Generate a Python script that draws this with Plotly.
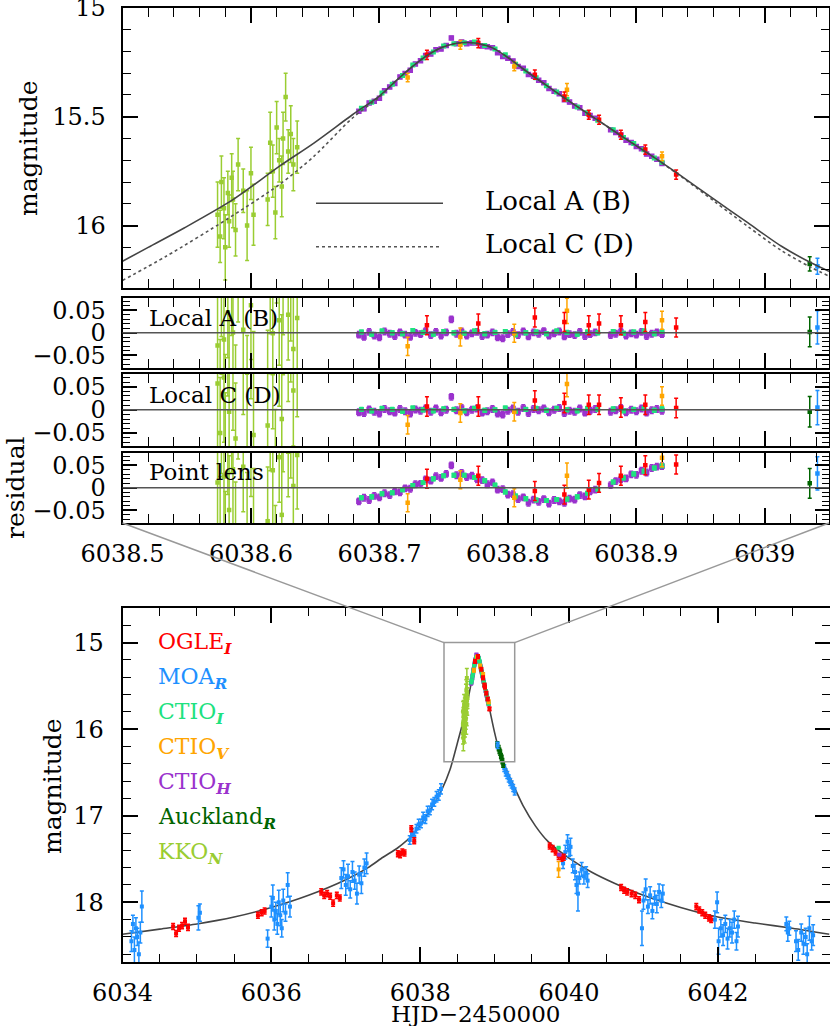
import plotly.graph_objects as go

W, H = 830, 1026
FONT = "DejaVu Serif"

# ---------------- model curves ----------------
model_A_t = [6038.500, 6038.520, 6038.548, 6038.586, 6038.622, 6038.649, 6038.679, 6038.700,
             6038.712, 6038.724, 6038.736, 6038.748, 6038.760, 6038.768, 6038.776, 6038.788,
             6038.800, 6038.812, 6038.830, 6038.850, 6038.870, 6038.890, 6038.910, 6038.931,
             6038.961, 6038.987, 6039.013, 6039.036, 6039.050]
model_A_mag = [16.164, 16.100, 16.011, 15.881, 15.728, 15.621, 15.491, 15.405,
               15.340, 15.278, 15.223, 15.183, 15.163, 15.159, 15.163, 15.184,
               15.228, 15.281, 15.356, 15.438, 15.516, 15.595, 15.672, 15.756,
               15.881, 15.988, 16.095, 16.171, 16.210]
model_C_t = [6038.500, 6038.534, 6038.581, 6038.622, 6038.649, 6038.679, 6038.700, 6038.712,
             6038.724, 6038.736, 6038.748, 6038.760, 6038.768, 6038.776, 6038.788, 6038.800,
             6038.812, 6038.830, 6038.850, 6038.870, 6038.890, 6038.910, 6038.935, 6038.961,
             6038.987, 6039.013, 6039.036, 6039.050]
model_C_mag = [16.252, 16.141, 15.972, 15.812, 15.682, 15.506, 15.410, 15.341,
               15.278, 15.223, 15.183, 15.163, 15.159, 15.163, 15.184, 15.228,
               15.281, 15.356, 15.438, 15.516, 15.595, 15.672, 15.775, 15.890,
               16.005, 16.115, 16.192, 16.232]
model_wide_t = [6034.0, 6034.5, 6035.0, 6035.5, 6036.0, 6036.5, 6037.0, 6037.3, 6037.5, 6037.7,
                6037.9, 6038.1, 6038.3, 6038.4, 6038.5, 6038.6, 6038.7, 6038.77, 6038.85, 6038.93,
                6039.0, 6039.05, 6039.16, 6039.27, 6039.38, 6039.55, 6039.72, 6040.0, 6040.3,
                6040.61, 6041.0, 6041.5, 6042.0, 6042.5, 6043.0, 6043.5]
model_wide_mag = [18.37, 18.31, 18.25, 18.17, 18.06, 17.92, 17.74, 17.60, 17.48, 17.37,
                  17.22, 16.98, 16.68, 16.47, 16.16, 15.83, 15.41, 15.16, 15.44, 15.76,
                  16.04, 16.21, 16.47, 16.68, 16.88, 17.12, 17.30, 17.49, 17.65,
                  17.78, 17.92, 18.06, 18.17, 18.24, 18.30, 18.37]

# tick labels
top_x_ticks = [6038.5, 6038.6, 6038.7, 6038.8, 6038.9, 6039.0]
top_x_labels = ["6038.5", "6038.6", "6038.7", "6038.8", "6038.9", "6039"]
bot_x_ticks = [6034, 6036, 6038, 6040, 6042]
bot_x_labels = ["6034", "6036", "6038", "6040", "6042"]

# ---------------- CTIO H (peak) ----------------
ctioH_t = [6038.684, 6038.688, 6038.692, 6038.696, 6038.700, 6038.704, 6038.708, 6038.712, 6038.716, 6038.720,
           6038.724, 6038.728, 6038.732, 6038.736, 6038.740, 6038.744, 6038.748, 6038.752, 6038.756, 6038.760,
           6038.764, 6038.768, 6038.772, 6038.776, 6038.780, 6038.784, 6038.788, 6038.792, 6038.796, 6038.800,
           6038.804, 6038.808, 6038.812, 6038.816, 6038.820, 6038.824, 6038.828, 6038.832, 6038.836, 6038.840,
           6038.844, 6038.848, 6038.852, 6038.856, 6038.860, 6038.864, 6038.868,
           6038.880, 6038.884, 6038.888, 6038.892, 6038.896, 6038.900, 6038.904, 6038.908, 6038.912, 6038.916, 6038.920]
ctioH_mag = [15.475, 15.464, 15.437, 15.429, 15.415, 15.381, 15.364, 15.347, 15.318, 15.302,
             15.287, 15.258, 15.243, 15.219, 15.212, 15.192, 15.189, 15.173, 15.138, 15.165,
             15.157, 15.165, 15.161, 15.161, 15.175, 15.179, 15.183, 15.206, 15.223, 15.231,
             15.244, 15.269, 15.278, 15.306, 15.314, 15.333, 15.344, 15.371, 15.383, 15.395,
             15.422, 15.433, 15.451, 15.459, 15.484, 15.495, 15.507,
             15.560, 15.573, 15.584, 15.608, 15.619, 15.637, 15.647, 15.671, 15.682, 15.695, 15.715]
ctioH_resA = [-0.004, -0.009, 0.002, -0.006, -0.010, 0.003, -0.002, -0.007, 0.001, -0.004,
              -0.009, 0.000, -0.003, 0.004, -0.005, 0.002, -0.006, 0.001, 0.030, -0.002,
              0.003, -0.006, -0.001, 0.002, -0.007, -0.004, 0.001, -0.010, -0.012, -0.003,
              0.002, -0.005, 0.003, -0.008, 0.001, -0.002, 0.004, -0.006, -0.001, 0.003,
              -0.008, -0.003, -0.005, 0.002, -0.007, -0.003, 0.001,
              -0.005, -0.002, 0.003, -0.006, -0.001, -0.004, 0.002, -0.007, -0.002, 0.001, -0.003]
ctioH_resC = [-0.005, -0.007, 0.001, -0.004, -0.008, 0.002, -0.003, -0.006, 0.002, -0.003,
              -0.008, 0.001, -0.002, 0.003, -0.004, 0.003, -0.005, 0.000, 0.028, -0.001,
              0.004, -0.005, 0.000, 0.003, -0.006, -0.003, 0.002, -0.008, -0.010, -0.002,
              0.003, -0.004, 0.004, -0.007, 0.002, -0.001, 0.003, -0.005, 0.000, 0.004,
              -0.007, -0.002, -0.004, 0.003, -0.006, -0.002, 0.002,
              -0.004, -0.001, 0.004, -0.005, 0.000, -0.003, 0.003, -0.006, -0.001, 0.002, -0.002]
ctioH_resP = [-0.030, -0.022, -0.027, -0.018, -0.021, -0.012, -0.016, -0.008, -0.010, -0.001,
              -0.002, 0.008, 0.009, 0.019, 0.016, 0.026, 0.022, 0.031, 0.050, 0.028,
              0.033, 0.024, 0.027, 0.019, 0.017, 0.008, 0.012, -0.004, -0.003, -0.015,
              -0.014, -0.025, -0.021, -0.033, -0.026, -0.031, -0.025, -0.035, -0.027, -0.030,
              -0.033, -0.024, -0.026, -0.016, -0.019, -0.008, -0.004,
              0.006, 0.015, 0.019, 0.021, 0.030, 0.029, 0.038, 0.034, 0.044, 0.047, 0.048]
ctioH_err = 0.007
ctioH_wide_t = [6039.87]
ctioH_wide_mag = [17.45]

# ---------------- CTIO I (peak) ----------------
ctioI_t = [6038.686, 6038.694, 6038.702, 6038.710, 6038.718, 6038.726, 6038.734, 6038.742, 6038.750, 6038.758,
           6038.766, 6038.774, 6038.782, 6038.790, 6038.798, 6038.806, 6038.814, 6038.822, 6038.830, 6038.838,
           6038.846, 6038.854, 6038.862, 6038.870, 6038.882, 6038.890, 6038.898, 6038.906, 6038.914, 6038.920]
ctioI_mag = [15.461, 15.434, 15.391, 15.351, 15.311, 15.263, 15.230, 15.203, 15.175, 15.165,
             15.160, 15.157, 15.173, 15.189, 15.216, 15.259, 15.290, 15.321, 15.358, 15.386,
             15.421, 15.456, 15.482, 15.516, 15.560, 15.595, 15.623, 15.652, 15.690, 15.709]
ctioI_resA = [0.002, -0.003, 0.004, 0.000, -0.002, 0.005, 0.001, -0.003, 0.003, 0.000,
              -0.001, 0.004, -0.002, 0.001, 0.003, -0.004, 0.000, 0.002, -0.002, 0.004,
              0.001, -0.003, 0.002, 0.000, 0.003, -0.001, 0.002, 0.004, -0.002, 0.003]
ctioI_resC = [0.001, -0.002, 0.003, 0.001, -0.003, 0.004, 0.000, -0.002, 0.002, 0.001,
              -0.002, 0.003, -0.001, 0.000, 0.004, -0.003, 0.001, 0.003, -0.001, 0.003,
              0.000, -0.002, 0.003, 0.001, 0.002, -0.002, 0.001, 0.003, -0.001, 0.002]
ctioI_resP = [-0.022, -0.020, -0.013, -0.011, -0.004, 0.005, 0.012, 0.020, 0.027, 0.028,
              0.028, 0.023, 0.016, 0.006, -0.009, -0.018, -0.024, -0.027, -0.028, -0.026,
              -0.025, -0.020, -0.012, -0.003, 0.013, 0.022, 0.031, 0.037, 0.044, 0.049]
ctioI_err = 0.004
ctioI_wide_t = [6039.86]
ctioI_wide_mag = [17.37]

# ---------------- CTIO V (peak) ----------------
ctioV_t = [6038.722, 6038.763, 6038.805, 6038.846, 6038.920]
ctioV_mag = [15.320, 15.170, 15.269, 15.376, 15.682]
ctioV_err = [0.020, 0.020, 0.020, 0.028, 0.020]
ctioV_resA = [-0.030, -0.009, -0.001, 0.049, 0.028]
ctioV_resC = [-0.032, -0.007, -0.004, 0.056, 0.030]
ctioV_resP = [-0.033, 0.018, -0.022, 0.027, 0.067]
ctioV_wide_t = [6039.86]
ctioV_wide_mag = [17.62]
ctioV_wide_err = [0.09]

# ---------------- OGLE I ----------------
ogle_t = [6038.737, 6038.777, 6038.821, 6038.844, 6038.863, 6038.871, 6038.888, 6038.907, 6038.931]
ogle_mag = [15.216, 15.162, 15.307, 15.407, 15.491, 15.514, 15.583, 15.651, 15.766]
ogle_err = 0.021
ogle_resA = [0.017, 0.021, 0.034, 0.024, 0.017, 0.021, 0.017, 0.024, 0.012]
ogle_resC = [0.007, 0.007, 0.020, 0.015, 0.011, 0.011, 0.005, 0.011, 0.004]
ogle_resP = [0.020, 0.027, -0.007, -0.015, -0.004, 0.011, 0.027, 0.050, 0.052]
ogle_wide_t = [6034.68, 6034.72, 6034.76, 6034.80, 6034.84, 6034.88,
               6035.82, 6035.87, 6035.91,
               6036.67, 6036.71, 6036.75, 6036.79, 6036.83, 6036.88, 6036.92,
               6037.70, 6037.73, 6037.76, 6037.79, 6037.88, 6037.92,
               6039.74, 6039.78, 6039.82, 6039.86, 6039.90, 6039.93,
               6040.70, 6040.74, 6040.78, 6040.84, 6040.89, 6040.94,
               6041.71, 6041.75, 6041.79, 6041.83, 6041.88, 6041.91]
ogle_wide_mag = [18.28, 18.36, 18.30, 18.27, 18.22, 18.29,
                 18.15, 18.12, 18.10,
                 17.88, 17.92, 17.90, 17.93, 18.01, 17.92, 17.95,
                 17.44, 17.45, 17.42, 17.43, 17.15, 17.29,
                 17.35, 17.38, 17.42, 17.47, 17.49, 17.48,
                 17.83, 17.86, 17.88, 17.90, 17.92, 17.97,
                 18.05, 18.09, 18.12, 18.15, 18.18, 18.20]
ogle_wide_err = 0.035

# ---------------- Auckland R ----------------
auck_t = [6039.035]
auck_mag = [16.176]
auck_err = [0.033]
auck_resA = [0.002]
auck_resC = [-0.004]
auck_resP = [0.010]
auck_wide_t = [6039.055, 6039.065, 6039.075, 6039.085, 6039.095, 6039.105, 6039.115]
auck_wide_mag = [16.22, 16.25, 16.27, 16.31, 16.33, 16.37, 16.41]
auck_wide_err = 0.03

# ---------------- MOA R ----------------
moa_t = [6039.041]
moa_mag = [16.187]
moa_err = [0.037]
moa_resA = [0.012]
moa_resC = [0.005]
moa_resP = [0.032]
moa_wide_t = [6034.12, 6034.14, 6034.16, 6034.18, 6034.20, 6034.22, 6034.24, 6034.26,
              6035.02, 6035.04,
              6035.95, 6036.00, 6036.02, 6036.04, 6036.06, 6036.08, 6036.10, 6036.12, 6036.14, 6036.16,
              6036.19, 6036.22, 6036.25,
              6036.94, 6036.97, 6037.00, 6037.03, 6037.06, 6037.09, 6037.12, 6037.15, 6037.18, 6037.21,
              6037.25, 6037.28,
              6037.86, 6037.89, 6037.92, 6037.95, 6037.98, 6038.01, 6038.04, 6038.07, 6038.10, 6038.13,
              6038.16, 6038.19, 6038.22, 6038.25, 6038.28,
              6039.13, 6039.15, 6039.17, 6039.19, 6039.21, 6039.23, 6039.25, 6039.27,
              6039.92, 6039.95, 6039.98, 6040.00, 6040.02, 6040.05, 6040.08, 6040.10, 6040.12, 6040.14,
              6040.17, 6040.20, 6040.23, 6040.25,
              6040.98, 6041.00, 6041.03, 6041.06, 6041.09, 6041.12, 6041.15, 6041.18, 6041.21, 6041.24, 6041.26,
              6041.96, 6041.99, 6042.01, 6042.04, 6042.07, 6042.10, 6042.13, 6042.16, 6042.19, 6042.22,
              6042.25, 6042.27,
              6042.92, 6042.94, 6042.96, 6043.05, 6043.08, 6043.12, 6043.15, 6043.18, 6043.20, 6043.23,
              6043.26, 6043.28]
moa_wide_mag = [18.45, 18.25, 18.55, 18.30, 18.40, 18.60, 18.35, 18.05,
                18.18, 18.12,
                18.42, 18.05, 17.95, 18.20, 18.10, 18.25, 18.00, 18.15, 18.30, 17.98,
                18.12, 17.80, 18.05,
                17.72, 17.62, 17.80, 17.70, 17.85, 17.65, 17.75, 17.90, 17.68, 17.78,
                17.60, 17.55,
                17.28, 17.20, 17.24, 17.15, 17.10, 17.09, 17.02, 17.04, 16.95, 16.94,
                16.87, 16.84, 16.78, 16.76, 16.69,
                16.45, 16.50, 16.53, 16.57, 16.61, 16.64, 16.68, 16.72,
                17.55, 17.42, 17.30, 17.40, 17.36, 17.58, 17.65, 17.80, 17.90, 17.72,
                17.62, 17.70, 17.66, 17.75,
                18.30, 17.98, 17.85, 18.05, 17.92, 18.10, 17.95, 18.02, 17.88, 17.98, 17.90,
                18.20, 18.00, 18.45, 18.30, 18.38, 18.25, 18.42, 18.30, 18.35, 18.20,
                18.45, 18.28,
                18.25, 18.35, 18.30, 18.45, 18.55, 18.35, 18.48, 18.40, 18.60, 18.30,
                18.45, 18.38]
moa_wide_err = [0.12, 0.10, 0.15, 0.12, 0.10, 0.14, 0.12, 0.18,
                0.14, 0.10,
                0.10, 0.12, 0.15, 0.12, 0.10, 0.12, 0.14, 0.12, 0.10, 0.13,
                0.10, 0.14, 0.12,
                0.12, 0.10, 0.12, 0.14, 0.10, 0.12, 0.10, 0.12, 0.10, 0.12,
                0.10, 0.12,
                0.05, 0.05, 0.06, 0.05, 0.06, 0.05, 0.06, 0.05, 0.06, 0.05,
                0.06, 0.05, 0.06, 0.06, 0.06,
                0.04, 0.04, 0.04, 0.04, 0.04, 0.04, 0.04, 0.04,
                0.06, 0.08, 0.08, 0.07, 0.10, 0.08, 0.09, 0.10, 0.20, 0.07,
                0.08, 0.09, 0.07, 0.08,
                0.20, 0.10, 0.12, 0.08, 0.10, 0.09, 0.08, 0.10, 0.09, 0.08, 0.10,
                0.10, 0.12, 0.15, 0.10, 0.12, 0.10, 0.12, 0.10, 0.12, 0.10,
                0.10, 0.12,
                0.08, 0.10, 0.08, 0.12, 0.12, 0.10, 0.12, 0.10, 0.12, 0.14,
                0.10, 0.12]

# ---------------- KKO N ----------------
kko_t = [6038.574, 6038.576, 6038.577, 6038.579, 6038.580, 6038.582, 6038.583, 6038.585, 6038.586, 6038.588,
         6038.590, 6038.594, 6038.597, 6038.600, 6038.602, 6038.613, 6038.615, 6038.617, 6038.619, 6038.620,
         6038.622, 6038.624, 6038.625, 6038.627, 6038.629, 6038.631, 6038.633, 6038.636]
kko_mag = [15.95, 16.05, 15.80, 15.92, 16.10, 15.85, 15.98, 15.78, 15.88, 16.02,
           15.72, 15.84, 16.00, 15.76, 15.95, 15.88, 15.62, 15.75, 15.94, 15.55,
           15.70, 15.82, 15.60, 15.41, 15.66, 15.58, 15.72, 15.64]
kko_err = [0.15, 0.12, 0.12, 0.14, 0.15, 0.10, 0.12, 0.11, 0.13, 0.12,
           0.12, 0.10, 0.16, 0.12, 0.14, 0.12, 0.14, 0.12, 0.12, 0.12,
           0.10, 0.14, 0.12, 0.11, 0.10, 0.13, 0.12, 0.12]
kko_resA = [-0.028, -0.135, 0.112, -0.015, -0.198, 0.045, -0.089, 0.104, 0.001, -0.147,
            0.144, 0.007, -0.166, 0.061, -0.137, -0.114, 0.138, -0.001, -0.199, 0.186,
            0.028, -0.100, 0.116, 0.298, 0.040, 0.112, -0.036, 0.033]
kko_resC = [0.057, -0.050, 0.197, 0.070, -0.113, 0.130, -0.004, 0.189, 0.086, -0.062,
            0.229, 0.090, -0.083, 0.144, -0.054, -0.034, 0.218, 0.079, -0.119, 0.266,
            0.108, -0.020, 0.196, 0.378, 0.118, 0.190, 0.042, 0.105]
kko_resP = [0.012, -0.095, 0.152, 0.025, -0.158, 0.085, -0.049, 0.144, 0.041, -0.107,
            0.184, 0.047, -0.126, 0.101, -0.097, -0.074, 0.178, 0.039, -0.159, 0.226,
            0.068, -0.060, 0.156, 0.338, 0.080, 0.152, 0.004, 0.073]

# ---------------- styling ----------------
C_OGLE = "#ff0000"
C_MOA = "#1e90ff"
C_CTIOI = "#1ee27f"
C_CTIOV = "#ffa500"
C_CTIOH = "#9a32cd"
C_AUCK = "#006400"
C_KKO = "#9acd32"

fig = go.Figure()


def pts(t, m, err, color, ax, size=4.5):
    if isinstance(err, (int, float)):
        ey = dict(type="constant", value=err, color=color, thickness=1.5, width=2)
    else:
        ey = dict(type="data", array=err, color=color, thickness=1.5, width=2)
    fig.add_trace(go.Scatter(
        x=t, y=m, mode="markers", error_y=ey, xaxis="x" + ax, yaxis="y" + ax,
        marker=dict(symbol="square", size=size, color=color, line=dict(width=0)),
        showlegend=False, hoverinfo="skip"))


# top panel (axis "")
pts(kko_t, kko_mag, kko_err, C_KKO, "")
pts(ctioH_t, ctioH_mag, ctioH_err, C_CTIOH, "", size=5.5)
pts(ctioI_t, ctioI_mag, ctioI_err, C_CTIOI, "", size=5)
pts(ctioV_t, ctioV_mag, ctioV_err, C_CTIOV, "")
pts(ogle_t, ogle_mag, ogle_err, C_OGLE, "")
pts(auck_t, auck_mag, auck_err, C_AUCK, "")
pts(moa_t, moa_mag, moa_err, C_MOA, "")
fig.add_trace(go.Scatter(x=model_C_t, y=model_C_mag, mode="lines", xaxis="x", yaxis="y",
                         line=dict(color="#555555", width=1.6, dash="dot", shape="spline", smoothing=0.8),
                         showlegend=False, hoverinfo="skip"))
fig.add_trace(go.Scatter(x=model_A_t, y=model_A_mag, mode="lines", xaxis="x", yaxis="y",
                         line=dict(color="#444444", width=1.6, shape="spline", smoothing=0.8),
                         showlegend=False, hoverinfo="skip"))

# residual panels
for ax, key in (("2", "A"), ("3", "C"), ("4", "P")):
    pts(kko_t, {"A": kko_resA, "C": kko_resC, "P": kko_resP}[key], kko_err, C_KKO, ax)
    pts(ctioH_t, {"A": ctioH_resA, "C": ctioH_resC, "P": ctioH_resP}[key], ctioH_err, C_CTIOH, ax, size=5.5)
    pts(ctioI_t, {"A": ctioI_resA, "C": ctioI_resC, "P": ctioI_resP}[key], ctioI_err, C_CTIOI, ax, size=5)
    pts(ctioV_t, {"A": ctioV_resA, "C": ctioV_resC, "P": ctioV_resP}[key], ctioV_err, C_CTIOV, ax)
    pts(ogle_t, {"A": ogle_resA, "C": ogle_resC, "P": ogle_resP}[key], ogle_err, C_OGLE, ax)
    pts(auck_t, {"A": auck_resA, "C": auck_resC, "P": auck_resP}[key], auck_err, C_AUCK, ax)
    pts(moa_t, {"A": moa_resA, "C": moa_resC, "P": moa_resP}[key], moa_err, C_MOA, ax)

# bottom panel
fig.add_trace(go.Scatter(x=model_wide_t, y=model_wide_mag, mode="lines", xaxis="x5", yaxis="y5",
                         line=dict(color="#444444", width=1.6, shape="spline", smoothing=0.7),
                         showlegend=False, hoverinfo="skip"))
pts(moa_wide_t, moa_wide_mag, moa_wide_err, C_MOA, "5", size=4)
pts(ogle_wide_t, ogle_wide_mag, ogle_wide_err, C_OGLE, "5", size=4)
pts(kko_t, kko_mag, kko_err, C_KKO, "5", size=4)
pts(ctioH_t + ctioH_wide_t, ctioH_mag + ctioH_wide_mag, ctioH_err, C_CTIOH, "5", size=4)
pts(ctioI_t + ctioI_wide_t, ctioI_mag + ctioI_wide_mag, ctioI_err, C_CTIOI, "5", size=4)
pts(ctioV_t + ctioV_wide_t, ctioV_mag + ctioV_wide_mag, ctioV_err + ctioV_wide_err, C_CTIOV, "5", size=4)
pts(ogle_t, ogle_mag, ogle_err, C_OGLE, "5", size=4)
pts(auck_t + auck_wide_t, auck_mag + auck_wide_mag, auck_wide_err, C_AUCK, "5", size=4)
pts(moa_t, moa_mag, moa_err, C_MOA, "5", size=4)


# ---------------- layout ----------------
def dom(top_px, bot_px):
    return [1 - bot_px / H, 1 - top_px / H]


XDOM = [122.5 / W, 829.0 / W]
XDOM_B = [122.5 / W, 829.5 / W]
D_TOP = dom(7.5, 288)
D_R1 = dom(297.7, 368)
D_R2 = dom(373.7, 446)
D_R3 = dom(452.7, 523)
D_BOT = dom(608, 962)

tickfont = dict(family=FONT, size=24, color="black")


def axis(**kw):
    base = dict(showline=True, linecolor="black", linewidth=2, mirror="allticks",
                ticks="inside", tickcolor="black", tickwidth=1.5, ticklen=15,
                showgrid=False, zeroline=False, tickfont=tickfont, fixedrange=True,
                automargin=False, ticklabeloverflow="allow")
    base.update(kw)
    return base


def minor(d, ln=8):
    return dict(ticks="inside", ticklen=ln, tickwidth=1.2, tickcolor="black", dtick=d, showgrid=False)


TOP_XR = [6038.5, 6039.05]
TOP_YR = [16.2867, 14.9985]
RES_YR = [-0.078, 0.078]
BOT_XR = [6034.0, 6043.5]
BOT_YR = [18.69, 14.6]

xtop = dict(range=TOP_XR, tickmode="array", tickvals=top_x_ticks, ticktext=top_x_labels,
            minor=dict(ticks="inside", ticklen=9, tickwidth=1.2, tickcolor="black",
                       tick0=6038.5, dtick=0.02, showgrid=False))

layout = dict(
    template="none",
    width=W, height=H, autosize=False, margin=dict(l=0, r=0, t=0, b=0, pad=0),
    paper_bgcolor="white", plot_bgcolor="white", showlegend=False,
    font=dict(family=FONT, color="black"),
    xaxis=axis(domain=XDOM, anchor="y", showticklabels=False, **xtop),
    yaxis=axis(domain=D_TOP, range=TOP_YR, anchor="x", dtick=0.5, tick0=15,
               minor=minor(0.1), ticklabelstandoff=10),
    xaxis2=axis(domain=XDOM, anchor="y2", showticklabels=False, **xtop),
    yaxis2=axis(domain=D_R1, range=RES_YR, anchor="x2", dtick=0.05, tick0=0,
                minor=minor(0.01, 7), ticklen=14, ticklabelstandoff=10),
    xaxis3=axis(domain=XDOM, anchor="y3", showticklabels=False, **xtop),
    yaxis3=axis(domain=D_R2, range=RES_YR, anchor="x3", dtick=0.05, tick0=0,
                minor=minor(0.01, 7), ticklen=14, ticklabelstandoff=10),
    xaxis4=axis(domain=XDOM, anchor="y4", ticklabelstandoff=8, **xtop),
    yaxis4=axis(domain=D_R3, range=RES_YR, anchor="x4", dtick=0.05, tick0=0,
                minor=minor(0.01, 7), ticklen=14, ticklabelstandoff=10),
    xaxis5=axis(domain=XDOM_B, range=BOT_XR, anchor="y5", tickmode="array",
                tickvals=bot_x_ticks, ticktext=bot_x_labels,
                minor=dict(ticks="inside", ticklen=8, tickwidth=1.2, tickcolor="black",
                           tick0=6034, dtick=0.5, showgrid=False), ticklabelstandoff=8),
    yaxis5=axis(domain=D_BOT, range=BOT_YR, anchor="x5", dtick=1, tick0=15,
                minor=minor(0.2), ticklabelstandoff=12),
)
fig.update_layout(**layout)


def px(x, y):
    return x / W, 1 - y / H


def bot_to_paper(t, m):
    xp = XDOM_B[0] + (t - BOT_XR[0]) / (BOT_XR[1] - BOT_XR[0]) * (XDOM_B[1] - XDOM_B[0])
    yp = D_BOT[0] + (m - BOT_YR[0]) / (BOT_YR[1] - BOT_YR[0]) * (D_BOT[1] - D_BOT[0])
    return xp, yp


shapes = []
for ax in ("2", "3", "4"):
    shapes.append(dict(type="line", xref="x%s domain" % ax, yref="y" + ax, x0=0, x1=1, y0=0, y1=0,
                       line=dict(color="#555555", width=1.5), layer="above"))
box_t = [6038.32, 6039.27]
box_m = [15.0, 16.376]
shapes.append(dict(type="rect", xref="x5", yref="y5", x0=box_t[0], x1=box_t[1], y0=box_m[0], y1=box_m[1],
                   line=dict(color="#999999", width=1.5), layer="above"))
bl = bot_to_paper(box_t[0], box_m[0])
br = bot_to_paper(box_t[1], box_m[0])
shapes.append(dict(type="line", xref="paper", yref="paper", x0=bl[0], y0=bl[1], x1=XDOM[0], y1=D_R3[0],
                   line=dict(color="#999999", width=1.5)))
shapes.append(dict(type="line", xref="paper", yref="paper", x0=br[0], y0=br[1], x1=XDOM[1], y1=D_R3[0],
                   line=dict(color="#999999", width=1.5)))
a0, a1 = px(316, 203.3), px(443, 203.3)
shapes.append(dict(type="line", xref="paper", yref="paper", x0=a0[0], y0=a0[1], x1=a1[0], y1=a1[1],
                   line=dict(color="#444444", width=1.6)))
b0, b1 = px(316, 246.7), px(440, 246.7)
shapes.append(dict(type="line", xref="paper", yref="paper", x0=b0[0], y0=b0[1], x1=b1[0], y1=b1[1],
                   line=dict(color="#555555", width=1.6, dash="dot")))

ann = []


def text(x, y, s, size=22, color="black", xanchor="left", angle=0):
    xp, yp = px(x, y)
    ann.append(dict(xref="paper", yref="paper", x=xp, y=yp, text=s, showarrow=False,
                    xanchor=xanchor, yanchor="middle", textangle=angle,
                    font=dict(family=FONT, size=size, color=color)))


text(483, 201, "Local A (B)", size=26)
text(483, 244, "Local C (D)", size=26)
text(147, 318, "Local A (B)", size=23)
text(147, 395, "Local C (D)", size=23)
text(147, 472, "Point lens", size=23)
text(28, 148, "magnitude", size=25, xanchor="center", angle=-90)
text(15, 488, "residual", size=25, xanchor="center", angle=-90)
text(52, 786, "magnitude", size=25, xanchor="center", angle=-90)
text(475, 1013.5, "HJD\u22122450000", size=23, xanchor="center")

legend_items = [("OGLE<sub><b><i>I</i></b></sub>", C_OGLE),
                ("MOA<sub><b><i>R</i></b></sub>", C_MOA),
                ("CTIO<sub><b><i>I</i></b></sub>", C_CTIOI),
                ("CTIO<sub><b><i>V</i></b></sub>", C_CTIOV),
                ("CTIO<sub><b><i>H</i></b></sub>", C_CTIOH),
                ("Auckland<sub><b><i>R</i></b></sub>", C_AUCK),
                ("KKO<sub><b><i>N</i></b></sub>", C_KKO)]
for i, (s, c) in enumerate(legend_items):
    text(156, 643 + 35 * i, s, size=22, color=c)

fig.update_layout(shapes=shapes, annotations=ann)
fig.write_html("out.html", config={"displayModeBar": False},
               post_script="document.body.style.margin='0';document.body.style.overflow='hidden';")
